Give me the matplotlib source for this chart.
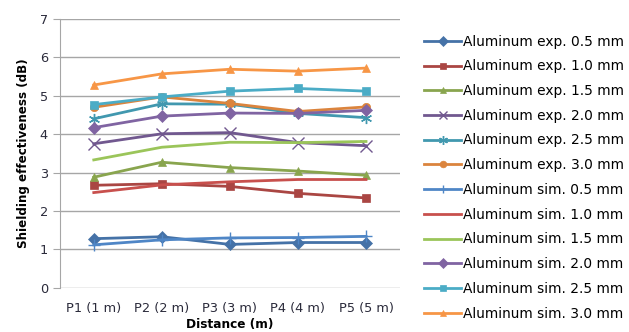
import matplotlib.pyplot as plt

# positions along the measurement line
positions = ['P1 (1 m)', 'P2 (2 m)', 'P3 (3 m)', 'P4 (4 m)', 'P5 (5 m)']

# shielding effectiveness (dB), measured
exp_05 = [1.28, 1.33, 1.13, 1.18, 1.18]
exp_10 = [2.67, 2.71, 2.64, 2.46, 2.34]
exp_15 = [2.88, 3.27, 3.13, 3.04, 2.93]
exp_20 = [3.75, 4.01, 4.04, 3.78, 3.70]
exp_25 = [4.40, 4.79, 4.78, 4.54, 4.43]
exp_30 = [4.70, 4.97, 4.80, 4.59, 4.71]

# shielding effectiveness (dB), simulated
sim_05 = [1.12, 1.25, 1.30, 1.31, 1.34]
sim_10 = [2.48, 2.68, 2.76, 2.82, 2.82]
sim_15 = [3.33, 3.66, 3.79, 3.78, 3.81]
sim_20 = [4.17, 4.47, 4.55, 4.54, 4.62]
sim_25 = [4.77, 4.97, 5.12, 5.19, 5.12]
sim_30 = [5.28, 5.57, 5.69, 5.64, 5.72]

series = [
    ('Aluminum exp. 0.5 mm', exp_05, '#4572A7', 'D'),
    ('Aluminum exp. 1.0 mm', exp_10, '#AA4643', 's'),
    ('Aluminum exp. 1.5 mm', exp_15, '#89A54E', '^'),
    ('Aluminum exp. 2.0 mm', exp_20, '#71588F', 'x'),
    ('Aluminum exp. 2.5 mm', exp_25, '#4198AF', (6, 2, 0)),
    ('Aluminum exp. 3.0 mm', exp_30, '#DB843D', 'o'),
    ('Aluminum sim. 0.5 mm', sim_05, '#4F86C6', '+'),
    ('Aluminum sim. 1.0 mm', sim_10, '#C8504D', None),
    ('Aluminum sim. 1.5 mm', sim_15, '#9BC55A', None),
    ('Aluminum sim. 2.0 mm', sim_20, '#8064A2', 'D'),
    ('Aluminum sim. 2.5 mm', sim_25, '#4BACC6', 's'),
    ('Aluminum sim. 3.0 mm', sim_30, '#F79646', '^'),
]

fig = plt.figure(figsize=(6.29, 3.32), dpi=100)
ax = fig.add_axes([0.095, 0.133, 0.541, 0.81])

x = range(len(positions))
for label, vals, color, marker in series:
    thin = marker in ('x', '+', (6, 2, 0))
    ax.plot(x, vals, color=color, lw=2, marker=marker,
            markersize=8 if thin else 6,
            markeredgewidth=1 if thin else 0.5,
            markeredgecolor=color, label=label)

ax.set_xlim(-0.5, 4.5)
ax.set_ylim(0, 7)
ax.set_yticks(range(8))
ax.set_xticks(list(x))
ax.set_xticklabels(positions)
ax.grid(axis='y', color='#a6a6a6', lw=1)
ax.set_axisbelow(True)
for s in ['top', 'right', 'bottom']:
    ax.spines[s].set_visible(False)
ax.spines['left'].set_color('#a6a6a6')
ax.tick_params(axis='y', length=5, color='#a6a6a6', labelsize=9.3, labelcolor='#2b2b3b')
ax.tick_params(axis='x', length=0, labelsize=9.3, labelcolor='#2b2b3b', pad=10)

ax.set_ylabel('Shielding effectiveness (dB)', fontsize=8.6, fontweight='bold', labelpad=7)
ax.set_xlabel('Distance (m)', fontsize=8.7, fontweight='bold', labelpad=2)

ax.legend(loc='center left', bbox_to_anchor=(1.055, 0.41), frameon=False,
          fontsize=9.9, handlelength=2.7, handletextpad=0.15, labelspacing=0.78,
          borderaxespad=0, markerscale=0.8)

fig.savefig('out.png', dpi=100)
